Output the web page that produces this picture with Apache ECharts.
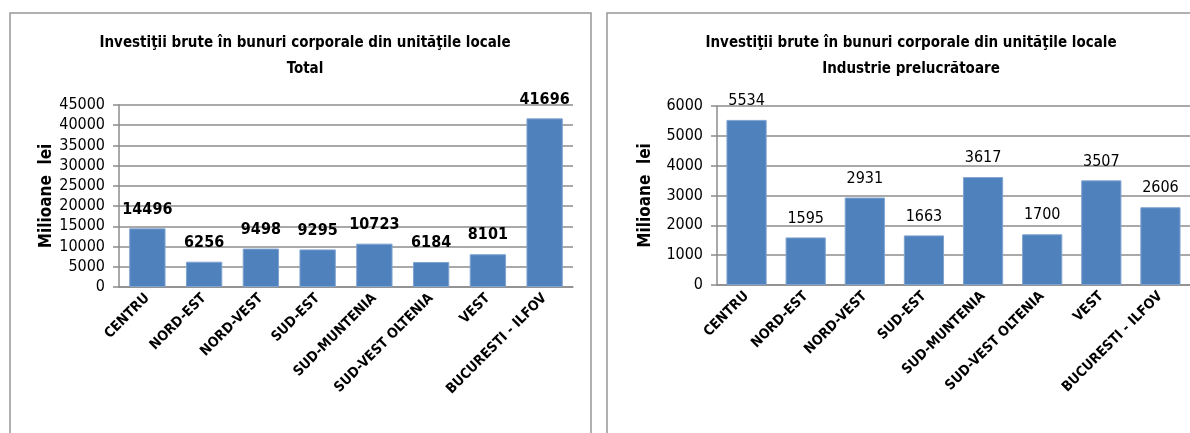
<!DOCTYPE html>
<html>
<head>
<meta charset="utf-8">
<script src="https://cdn.jsdelivr.net/npm/echarts@6/dist/echarts.min.js"></script>
<style>
  html, body { margin: 0; padding: 0; background: #fff; }
  #chart { width: 1190px; height: 433px; }
</style>
</head>
<body>
<div id="chart"></div>
<script>
  // regiuni de dezvoltare
  var categories = ['CENTRU', 'NORD-EST', 'NORD-VEST', 'SUD-EST', 'SUD-MUNTENIA', 'SUD-VEST OLTENIA', 'VEST', 'BUCURESTI - ILFOV'];
  // milioane lei
  var totalValues = [14496, 6256, 9498, 9295, 10723, 6184, 8101, 41696];
  var industrieValues = [5534, 1595, 2931, 1663, 3617, 1700, 3507, 2606];

  var titleLeft = 'Investiţii brute în bunuri corporale din unităţile locale\nTotal';
  var titleRight = 'Investiţii brute în bunuri corporale din unităţile locale\nIndustrie prelucrătoare';
  var yName = 'Milioane  lei';

  var font = '"Liberation Sans Narrow", "Arial Narrow", "DejaVu Sans Condensed", sans-serif';
  var gridColor = '#8c8c8c';
  var barColor = '#4f81bd';

  var chart = echarts.init(document.getElementById('chart'));

  function yAxis(gridIndex, max, interval) {
    return {
      type: 'value',
      gridIndex: gridIndex,
      min: 0,
      max: max,
      interval: interval,
      name: yName,
      nameLocation: 'middle',
      nameGap: 63,
      nameRotate: 90,
      nameTextStyle: { fontFamily: font, fontSize: 17, fontWeight: 'bold', color: '#000' },
      axisLine: { show: true, lineStyle: { color: gridColor, width: 1.5 } },
      axisTick: { show: true, length: 6, lineStyle: { color: gridColor, width: 1.5 } },
      axisLabel: {
        fontFamily: font, fontSize: 16, color: '#000', margin: 14,
        formatter: function (v) { return String(v); }
      },
      splitLine: { lineStyle: { color: gridColor, width: 1.5 } }
    };
  }

  function xAxis(gridIndex) {
    return {
      type: 'category',
      gridIndex: gridIndex,
      data: categories,
      axisLine: { show: true, lineStyle: { color: gridColor, width: 1.5 } },
      axisTick: { show: false },
      axisLabel: {
        interval: 0,
        rotate: 45,
        margin: 9,
        fontFamily: font,
        fontSize: 14,
        fontWeight: 'bold',
        color: '#000'
      }
    };
  }

  var option = {
    backgroundColor: '#fff',
    animation: false,
    title: [
      {
        text: titleLeft,
        left: 300,
        top: 25,
        textAlign: 'center',
        textStyle: { fontFamily: font, fontSize: 15, fontWeight: 'bold', color: '#000', lineHeight: 26 }
      },
      {
        text: titleRight,
        left: 906,
        top: 25,
        textAlign: 'center',
        textStyle: { fontFamily: font, fontSize: 15, fontWeight: 'bold', color: '#000', lineHeight: 26 }
      }
    ],
    graphic: [
      { type: 'rect', shape: { x: 10, y: 13, width: 581, height: 440 }, style: { fill: 'none', stroke: '#969696', lineWidth: 1.5 } },
      { type: 'rect', shape: { x: 607, y: 13, width: 600, height: 440 }, style: { fill: 'none', stroke: '#969696', lineWidth: 1.5 } }
    ],
    grid: [
      { left: 119, top: 105, width: 454, height: 182, outerBoundsMode: 'none' },
      { left: 717, top: 106, width: 473, height: 179, outerBoundsMode: 'none' }
    ],
    xAxis: [xAxis(0), xAxis(1)],
    yAxis: [yAxis(0, 45000, 5000), yAxis(1, 6000, 1000)],
    series: [
      {
        type: 'bar',
        xAxisIndex: 0,
        yAxisIndex: 0,
        data: totalValues,
        barCategoryGap: '36%',
        itemStyle: { color: barColor, borderColor: '#7fa3d0', borderWidth: 1 },
        label: { show: true, position: 'top', distance: 11, fontFamily: font, fontSize: 16, fontWeight: 'bold', color: '#000' }
      },
      {
        type: 'bar',
        xAxisIndex: 1,
        yAxisIndex: 1,
        data: industrieValues,
        barCategoryGap: '32%',
        itemStyle: { color: barColor, borderColor: '#7fa3d0', borderWidth: 1 },
        label: { show: true, position: 'top', distance: 11, fontFamily: font, fontSize: 16, color: '#000' }
      }
    ]
  };

  chart.setOption(option);
</script>
</body>
</html>
